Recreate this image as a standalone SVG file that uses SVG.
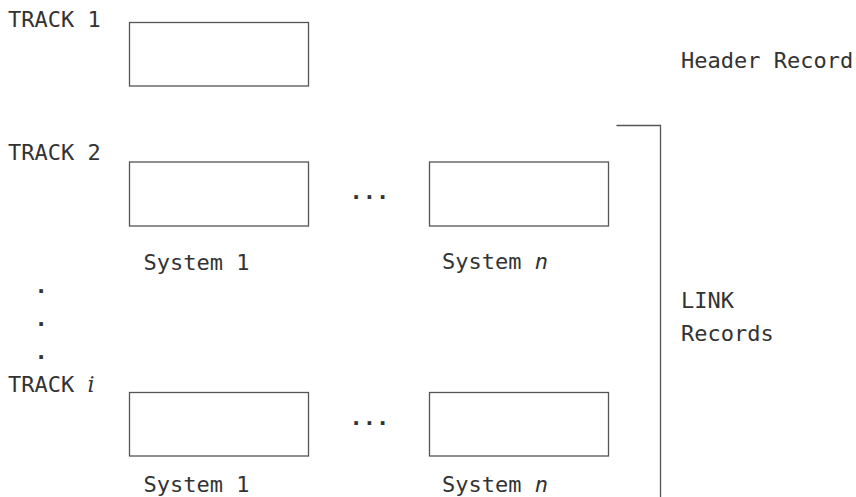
<svg xmlns="http://www.w3.org/2000/svg" width="856" height="497" viewBox="0 0 856 497">
<style>
text{font-family:"DejaVu Sans Mono",monospace;font-size:22px;fill:#333}
.box{fill:#fff;stroke:#555;stroke-width:1.3}
.line{fill:none;stroke:#555;stroke-width:1.3}
.it{font-style:italic}
.mi{font-family:"DejaVu Serif",serif;font-style:italic}
.dot{font-weight:bold}
</style>
<rect width="856" height="497" fill="#fff"/>
<g id="labels">
<text x="8" y="27">TRACK 1</text>
<text x="8" y="160">TRACK 2</text>
<text x="8" y="392">TRACK <tspan class="mi">i</tspan></text>
<text class="dot" x="34.5" y="293">.</text>
<text class="dot" x="34.5" y="326">.</text>
<text class="dot" x="34.5" y="359">.</text>
<text x="681" y="68">Header Record</text>
<text x="681" y="308">LINK</text>
<text x="681" y="341">Records</text>
</g>
<g id="header">
<rect class="box" x="129.5" y="22.5" width="179" height="63.5"/>
</g>
<g id="track2-sys1">
<rect class="box" x="129.5" y="162" width="179" height="64"/>
<text x="143.5" y="270">System 1</text>
</g>
<g id="track2-dots"><text class="dot" x="349.5" y="199">...</text></g>
<g id="track2-sysn">
<rect class="box" x="429.5" y="162" width="179" height="64"/>
<text x="442" y="269">System <tspan class="it">n</tspan></text>
</g>
<g id="tracki-sys1">
<rect class="box" x="129.5" y="392.5" width="179" height="63.5"/>
<text x="143.5" y="492">System 1</text>
</g>
<g id="tracki-dots"><text class="dot" x="349.5" y="425">...</text></g>
<g id="tracki-sysn">
<rect class="box" x="429.5" y="392.5" width="179" height="63.5"/>
<text x="442" y="492">System <tspan class="it">n</tspan></text>
</g>
<g id="connectors">
<path class="line" d="M616.5 125.5 H660.5 V497"/>
</g>
</svg>
